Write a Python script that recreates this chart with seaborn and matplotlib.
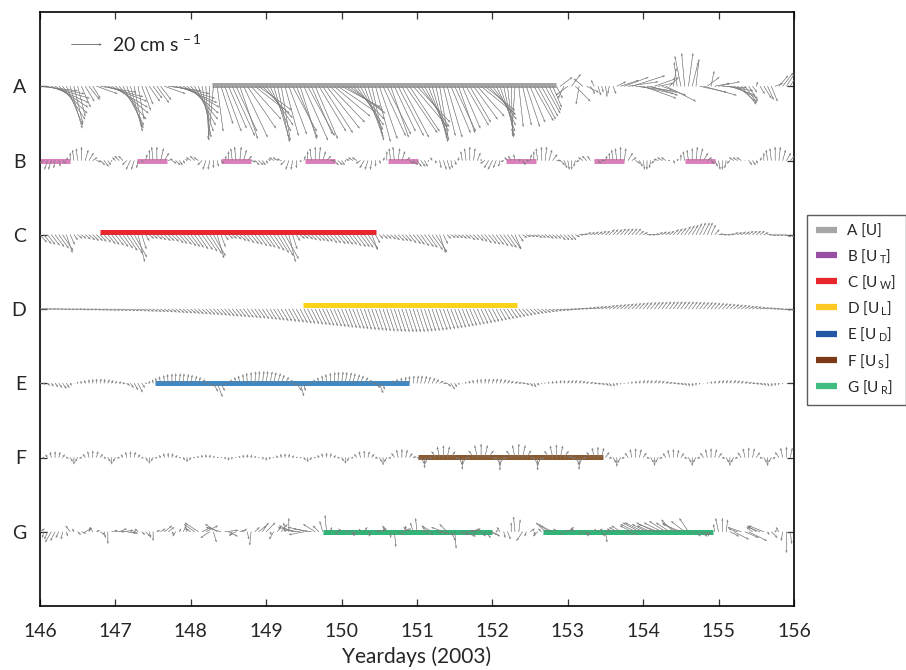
import numpy as np
import pandas as pd
import matplotlib
matplotlib.use("Agg")
import matplotlib.pyplot as plt
from matplotlib.lines import Line2D
import seaborn as sns

# ---------------- data ----------------
row_names = ["A", "B", "C", "D", "E", "F", "G"]
row_levels = [7, 6, 5, 4, 3, 2, 1]
legend_labels = ["A [U]", r"B [U$_{\;\mathrm{T}}$]", r"C [U$_{\;\mathrm{W}}$]", r"D [U$_{\;\mathrm{L}}$]",
                 r"E [U$_{\;\mathrm{D}}$]", r"F [U$_{\;\mathrm{S}}$]", r"G [U$_{\;\mathrm{R}}$]"]
x_ticks = [146, 147, 148, 149, 150, 151, 152, 153, 154, 155, 156]
t_first = 146.0
t_step = 0.05   # every series sampled every 0.05 day (146.00 ... 156.00)

# velocity components (cm/s)
A_u = [25, 27, 28, 25, 22, 19, 15, 11, 8, 6, 5, 6, 6, 7, 5, 14, 24, 26, 26, 24,
       22, 18, 14, 11, 8, 5, 4, 6, 5, 7, 6, 8, 7, 14, 22, 25, 26, 25, 24, 21,
       18, 14, 10, 6, 2, -1, -3, 4, 8, 11, 12, 15, 14, 12, 16, 19, 20, 23, 22, 20,
       18, 14, 10, 8, 6, 9, 12, 16, 14, 11, 16, 18, 14, 15, 18, 20, 22, 23, 24, 25,
       26, 25, 24, 21, 18, 15, 12, 10, 8, 10, 12, 15, 16, 12, 14, 17, 18, 21, 20, 23,
       22, 19, 16, 13, 10, 8, 6, 8, 10, 13, 14, 11, 12, 15, 14, 16, 18, 21, 20, 18,
       16, 13, 10, 7, 4, 1, -2, 3, 6, 9, 10, 13, 12, 11, 10, 8, 6, 4, 8, -4,
       -8, 6, 10, -2, -6, 8, 3, -2, 2, 1, 1, -1, 2, 6, 12, 16, 20, 22, 24, 23,
       22, 20, 18, 14, 10, 16, 20, 6, 2, -2, -4, -2, 3, 4, 2, 18, 22, 8, 2, 10,
       14, 16, 18, 17, 16, 12, 10, 8, 6, 3, 1, 3, 5, 4, 4, 5, 6, 7, 7, 6,
       5]
A_v = [-3, -5, -8, -11, -14, -18, -22, -26, -28, -25, -20, -14, -10, -9, -8, -5, -4, -7, -10, -14,
       -18, -22, -26, -28, -30, -27, -22, -16, -12, -10, -8, -11, -9, -5, -3, -5, -8, -11, -14, -18,
       -22, -26, -30, -34, -36, -35, -33, -30, -25, -30, -28, -33, -30, -35, -34, -28, -22, -18, -16, -21,
       -26, -30, -34, -37, -36, -33, -32, -30, -34, -35, -36, -33, -32, -35, -30, -31, -28, -24, -20, -17,
       -14, -16, -18, -22, -26, -29, -32, -34, -36, -37, -35, -33, -32, -34, -30, -33, -34, -31, -30, -27,
       -24, -27, -30, -33, -35, -37, -36, -33, -34, -31, -30, -31, -28, -26, -24, -22, -20, -17, -16, -19,
       -22, -26, -30, -33, -34, -33, -30, -27, -26, -27, -24, -23, -22, -20, -18, -16, -14, -8, 6, -8,
       -6, 8, -10, -12, 5, -4, -5, 4, -6, -4, -7, -5, -5, 3, 4, 6, 3, 7, -3, -5,
       -8, -4, -6, 5, 2, -6, -10, 6, 12, 16, 20, 22, 22, 16, 18, -4, -6, 6, 10, 2,
       3, -1, -3, -6, -8, -10, -12, -11, -10, -4, 3, -5, -8, -9, -10, 2, 7, 9, 11, 10,
       8]

B_u = [-3, -3, -2, -2, -1, 1, 2, 1, 0, -1, -1, 0, 2, 3, 3, 3, 3, 3, 2, 0,
       -2, -3, -3, -3, -3, -2, -1, 1, 1, 0, -1, 0, 2, 3, 3, 3, 3, 2, 1, -1,
       -3, -3, -3, -3, -2, -1, 0, 1, 2, 1, 0, -1, -1, 1, 2, 3, 3, 3, 3, 2,
       1, -1, -3, -3, -3, -3, -2, -1, 0, 1, 1, 0, -1, 0, 1, 2, 3, 3, 3, 3,
       2, 0, -2, -3, -3, -3, -3, -2, -1, 0, 1, 1, 0, -1, -1, 1, 2, 3, 3, 3,
       3, 3, 2, 0, -1, 0, 1, 2, 2, 1, 1, 0, -1, -1, 0, 1, 2, 0, -3, -3,
       -3, -2, -1, -2, -2, -2, -1, 1, 2, 2, 1, 0, -1, 0, 1, 2, 3, 3, 3, 2,
       1, 0, -1, -2, -3, -3, -2, 0, 2, 2, 1, 0, -1, -1, 0, 1, 3, 3, 3, 2,
       1, 0, -1, -2, -3, -3, -3, -1, 1, 1, 0, -1, -1, 0, 1, 2, 3, 3, 2, 2,
       1, 0, -1, -2, -3, -3, -3, 0, 2, 2, 1, 1, 0, -1, -1, 0, 1, 2, 3, 3,
       2]
B_v = [3, -2, -6, -6, -5, -4, -2, 2, 5, 7, 8, 9, 7, 5, 2, -1, -3, -4, -3, -1,
       2, 3, 3, -3, -6, -6, -5, -1, 4, 7, 9, 9, 8, 5, 1, -2, -3, -3, -2, 1,
       2, 3, 2, -3, -6, -6, -5, -4, -2, 3, 6, 8, 9, 9, 7, 3, -1, -3, -3, -3,
       -2, 1, 2, 2, 1, -3, -6, -6, -5, -1, 3, 6, 8, 9, 9, 6, 3, 0, -3, -3,
       -3, -1, 1, 2, 2, -2, -5, -6, -6, -4, -2, 2, 6, 8, 9, 8, 6, 2, -2, -3,
       -4, -4, -4, -1, 2, -2, -5, -6, -6, -5, -3, 2, 6, 8, 9, 8, 5, 1, -2, -5,
       -6, -5, -4, -1, 2, 3, 4, 1, -3, 0, 4, 6, 8, 9, 9, 7, 4, 0, -3, -5,
       -6, -6, -4, -1, 2, 3, 3, 0, -2, 0, 3, 5, 7, 8, 9, 8, 5, 2, -2, -4,
       -6, -6, -5, -2, 1, 2, 2, 0, -2, 1, 4, 6, 7, 8, 9, 8, 5, 2, -2, -4,
       -6, -6, -5, -2, 2, 2, 2, 0, -3, -3, -2, 2, 5, 7, 8, 9, 9, 7, 5, 3,
       1]

C_u = [4.5, 5, 5, 5.5, 6, 6.5, 7, 4, 3, 2.5, 3, 3, 3.5, 4, 4, 4, 4, 4.5, 5, 5,
       5.5, 6, 6.5, 7, 8, 8.5, 4.5, 3, 2.5, 3, 3, 3.5, 3.5, 4, 4, 4.5, 5, 5, 5.5, 6,
       6, 6, 6.5, 7, 7.5, 8, 8, 4.5, 3, 2.5, 3, 3, 3.5, 4, 4, 4.5, 5, 5, 5.5, 6,
       6, 6.5, 7, 7.5, 8, 9, 4.5, 3, 2.5, 3, 3, 3.5, 3.5, 4, 4, 4, 4, 4.5, 4.5, 5,
       5, 5, 5, 5.5, 6, 6, 6, 6.5, 4, 3, 2.5, 3, 3, 3.5, 3.5, 4, 4, 4, 4.5, 5,
       5, 5.5, 6, 6, 7, 7.5, 4, 3, 2.5, 3, 3, 3, 3, 3, 3.5, 3.5, 4, 4, 4.5, 5,
       5, 5, 5.5, 6, 6, 6.5, 4, 3, 3, 3, 3, 3, 3, 3, 3, 3, 3, 3, 3.5, 3.5,
       3.5, 3, 3, 3, 3, 3, 3, 3, 3, 3, 3, 3.5, 3.5, 3.5, 3.5, 3.5, 3.5, 3.5, 3.5, 3,
       3, 3, 3, 3, 3, 3, 3, 3, 3.5, 3.5, 3.5, 4, 4, 4, 4, 4, 4, 3.5, 3, 3,
       3, 3, 3, 3, 3, 3, 3, 3, 3, 3, 3, 3, 3, 3, 3, 3, 3, 3, 3, 3,
       3]
C_v = [-5, -6, -6.5, -7, -8, -9, -10.5, -12, -6.5, -3.5, -2.5, -2.5, -3, -3.5, -4, -4, -4.5, -5, -6, -6.5,
       -7, -8, -9, -10.5, -12.5, -15, -18, -9.5, -4, -2.5, -2.5, -3, -3.5, -4, -4, -4.5, -5.5, -6, -6.5, -7.5,
       -8, -8.5, -9.5, -10, -11, -12.5, -14, -15.5, -8, -3.5, -2.5, -2.5, -3, -4, -4.5, -5.5, -6, -6.5, -7.5, -8,
       -8.5, -9.5, -10.5, -12, -14, -16, -18, -9.5, -4, -2.5, -2.5, -3, -3.5, -4, -4, -4.5, -4.5, -5.5, -5.5, -6,
       -6, -6.5, -6.5, -7.5, -8, -8, -8.5, -9.5, -10, -5.5, -2.5, -2.5, -2.5, -3, -3.5, -4, -4, -4.5, -5.5, -6,
       -6.5, -7.5, -8, -8.5, -10, -11.5, -12, -6, -2.5, -2, -2, -2, -2.5, -2.5, -3.5, -3.5, -4, -4.5, -5.5, -6,
       -6.5, -6.5, -7.5, -8, -8.5, -9.5, -9.5, -4.5, -2, -1.5, -1.5, -1.5, -2, -2, -2, -2.5, -2.5, -2.5, -3.5, -3.5,
       -3.5, -3.5, -1.5, 0, 0.5, 1.5, 1.5, 2, 2, 2.5, 2.5, 3.5, 3.5, 3.5, 4, 4, 4, 4, 4, 2.5,
       1.5, 0, 0, 0.5, 1.5, 2, 2, 2.5, 3.5, 4, 4.5, 5.5, 6, 6.5, 7.5, 8, 8, 8, 6.5, 3.5,
       0.5, 0, 0, 0.5, 1.5, 1.5, 2, 2, 2.5, 2.5, 2.5, 2.5, 1.5, 0, -0.5, -0.5, -0.5, -0.5, -1.5, -1.5,
       -1.5]

D_u = [3, 3, 3, 3, 3, 3, 3, 3, 3, 3, 3, 3, 3, 3, 3, 3, 3, 3, 3, 3,
       3, 3, 3, 3, 3, 3, 3, 3, 3, 3, 3, 3, 3, 3, 3, 3.1, 3.1, 3.2, 3.2, 3.3,
       3.4, 3.4, 3.5, 3.5, 3.6, 3.6, 3.7, 3.7, 3.8, 3.8, 3.9, 3.9, 4, 4, 4.1, 4.1, 4.2, 4.2, 4.3, 4.3,
       4.4, 4.4, 4.5, 4.5, 4.6, 4.6, 4.7, 4.7, 4.8, 4.8, 4.9, 4.9, 5, 5, 5, 5, 5, 5, 5, 5,
       5, 5, 5, 5, 5, 5, 5, 5, 5, 5, 5, 5, 5, 5, 5, 5, 5, 5, 5, 5,
       5, 5, 5, 5, 5, 5, 5, 5, 5, 5, 4.9, 4.9, 4.8, 4.8, 4.7, 4.7, 4.6, 4.6, 4.5, 4.5,
       4.4, 4.4, 4.3, 4.3, 4.2, 4.2, 4.1, 4.1, 4, 4, 3.9, 3.9, 3.8, 3.8, 3.7, 3.7, 3.6, 3.6, 3.5, 3.5,
       3.5, 3.5, 3.5, 3.5, 3.5, 3.5, 3.5, 3.5, 3.5, 3.5, 3.5, 3.5, 3.5, 3.5, 3.5, 3.5, 3.5, 3.5, 3.5, 3.5,
       3.5, 3.5, 3.5, 3.5, 3.5, 3.5, 3.5, 3.5, 3.5, 3.5, 3.5, 3.5, 3.5, 3.5, 3.5, 3.5, 3.5, 3.5, 3.5, 3.5,
       3.5, 3.5, 3.5, 3.5, 3.5, 3.5, 3.5, 3.5, 3.5, 3.5, 3.4, 3.4, 3.3, 3.3, 3.2, 3.2, 3.1, 3.1, 3, 3,
       3]
D_v = [0, 0, 0, 0, 0, -0.1, -0.2, -0.2, -0.3, -0.3, -0.3, -0.4, -0.5, -0.5, -0.5, -0.6, -0.7, -0.7, -0.8, -0.9,
       -0.9, -1.0, -1.1, -1.1, -1.2, -1.3, -1.3, -1.4, -1.5, -1.6, -1.7, -1.8, -1.9, -2.0, -2.1, -2.2, -2.4, -2.5, -2.7, -2.8,
       -2.9, -3.1, -3.3, -3.4, -3.6, -3.8, -3.9, -4.1, -4.3, -4.5, -4.7, -4.9, -5.1, -5.3, -5.5, -5.7, -5.9, -6.1, -6.3, -6.6,
       -6.8, -7.1, -7.3, -7.6, -7.9, -8.1, -8.4, -8.7, -8.9, -9.2, -9.5, -9.7, -10.0, -10.3, -10.5, -10.8, -11.1, -11.3, -11.6, -11.9,
       -12.1, -12.4, -12.7, -12.9, -13.2, -13.4, -13.7, -13.9, -14.1, -14.3, -14.5, -14.7, -14.9, -15.0, -15.1, -15.2, -15.3, -15.3, -15.3, -15.3,
       -15.2, -15.1, -14.9, -14.7, -14.5, -14.3, -14.0, -13.7, -13.3, -13.0, -12.7, -12.3, -11.9, -11.5, -11.1, -10.7, -10.2, -9.8, -9.3, -8.9,
       -8.4, -8.0, -7.5, -7.0, -6.5, -6.1, -5.6, -5.2, -4.7, -4.3, -3.8, -3.4, -3.0, -2.7, -2.3, -1.9, -1.6, -1.3, -1.0, -0.8,
       -0.5, -0.2, 0, 0.3, 0.5, 0.8, 1.1, 1.4, 1.6, 1.9, 2.1, 2.4, 2.7, 2.9, 3.1, 3.3, 3.5, 3.7, 3.9, 4.1,
       4.3, 4.4, 4.5, 4.6, 4.7, 4.8, 4.9, 4.9, 4.9, 4.9, 4.9, 4.9, 4.9, 4.8, 4.7, 4.6, 4.5, 4.4, 4.3, 4.1,
       3.9, 3.7, 3.5, 3.3, 3.1, 2.8, 2.5, 2.3, 2.0, 1.8, 1.5, 1.2, 0.9, 0.7, 0.4, 0.2, -0.1, -0.4, -0.7, -0.9,
       -1.1]

E_u = [1, 1, 1.5, 1.5, 2, 2, 2.5, 2, 1, 0, -0.5, -0.5, -0.5, 0, 0, 0, 0.5, 0.5, 1, 1,
       1, 1.5, 1.5, 2, 2, 2.5, 3, 2, 1, 0, -0.5, -1, -1, -0.5, -0.5, 0, 0, 0.5, 0.5, 1,
       1, 1.5, 1.5, 2, 2, 2.5, 3, 3.5, 2.5, 1, 0, -1, -1, -1, -0.5, -0.5, 0, 0.5, 0.5, 1,
       1, 1.5, 1.5, 2, 2, 2.5, 2.5, 3, 3.5, 2.5, 1, 0, -1, -1, -1, -0.5, -0.5, 0, 0.5, 0.5,
       1, 1, 1.5, 1.5, 2, 2, 2.5, 2.5, 3, 3, 2.5, 1, 0, -0.5, -1, -1, -0.5, 0, 0, 0.5,
       1, 1, 1.5, 1.5, 2, 2, 2.5, 2.5, 2.5, 2.5, 1.5, 0.5, 0, -0.5, -0.5, -0.5, 0, 0, 0.5, 0.5,
       1, 1, 1, 1.5, 1.5, 1.5, 2, 2, 2, 2, 2, 1.5, 1, 0, -0.5, -0.5, 0, 0, 0.5, 0.5,
       1, 1, 1, 1.5, 1.5, 1.5, 2, 2, 2, 2, 2, 1.5, 1, 0.5, 0, -0.5, 0, 0, 0.5, 0.5,
       1, 1, 1, 1.5, 1.5, 1.5, 2, 2, 2, 2, 2, 1.5, 1, 0.5, 0, -0.5, 0, 0, 0.5, 0.5,
       1, 1, 1, 1, 1.5, 1.5, 1.5, 2, 2, 2, 2, 2, 1.5, 1, 0.5, 0, -0.5, 0, 0, 0.5,
       0.5]
E_v = [-0.5, -1, -1.5, -2, -2.5, -3, -3.5, -3, -1.5, 0, 1, 1.5, 2, 2.5, 2.7, 3, 3, 2.8, 2.5, 2,
       1.5, 1, 0, -1.5, -3, -4.5, -6, -3, 0, 1.5, 2.5, 3.5, 4.5, 5.3, 6, 6.3, 6.5, 6.5, 6.3, 6,
       5.5, 4.8, 4, 2.5, 0.5, -2, -5.5, -9, -5, -1, 1, 2.5, 4, 5, 6, 6.8, 7.3, 7.7, 8, 8,
       8, 7.7, 7.2, 6.5, 5.5, 4, 2, -1, -5, -8.5, -5, -1, 1, 2.5, 3.8, 5, 6, 6.8, 7.3, 7.5,
       7.5, 7.4, 7, 6.5, 5.8, 5, 3.8, 2, 0, -3, -6.5, -4, -1, 0.5, 1.8, 2.8, 3.6, 4.2, 4.7, 5,
       5, 5, 4.8, 4.3, 3.5, 2.5, 1.5, 0, -2, -4, -2.5, -1, 0, 1, 1.7, 2.2, 2.6, 2.8, 3, 3,
       3, 3, 2.8, 2.5, 2, 1.5, 1, 0.5, 0, -1, -2, -2.5, -1.5, -0.5, 0.3, 1, 1.5, 1.8, 2, 2,
       2, 2, 2, 1.8, 1.5, 1, 0.5, 0, -0.5, -1, -1.5, -2, -2, -1.5, -0.8, 0, 0.7, 1.2, 1.6, 1.8,
       2, 2, 2, 2, 1.8, 1.5, 1, 0.5, 0, -0.5, -1, -1.5, -2, -2, -1.5, -0.8, 0, 0.7, 1.2, 1.6,
       1.8, 2, 2, 2, 2, 1.8, 1.5, 1, 0.5, 0, -0.5, -1, -1.5, -2, -2, -1.7, -1.2, -0.6, 0, 0.4,
       0.8]

F_u = [-1.4, -1.2, -1.4, -0.8, 0, 0.8, 1.4, 1.4, 1.6, 0, -1.6, -1.4, -1.6, -0.9, 0, 0.9, 1.6, 1.4, 1.6, 0,
       -1.6, -1.4, -1.4, -0.8, 0, 0.8, 1.4, 1.2, 1.4, 0, -1.4, -1.2, -1, -0.6, 0, 0.6, 1, 0.9, 1, 0,
       -1, -0.9, -0.7, -0.4, 0, 0.4, 0.7, 0.8, 0.6, 0.7, 0, -0.7, -0.6, -0.7, -0.4, 0, 0.4, 0.7, 0.6, 0.7,
       0, -0.7, -0.6, -0.9, -0.5, 0, 0.5, 0.9, 0.9, 0.9, 1, 0, -1, -0.9, -1, -0.6, 0, 0.6, 1, 1.2,
       1.4, 0, -1.4, -1.2, -1.6, -0.9, 0, 0.9, 1.6, 1.5, 1.8, 0, -1.8, -1.5, -1.9, -1.1, 0, 1.1, 1.9, 2,
       2.1, 2.5, 0, -2.5, -2.1, -2.8, -1.6, 0, 1.6, 2.8, 2.4, 2.8, 0, -2.8, -2.4, -3.2, -1.8, 0, 1.8, 3.2,
       2.6, 3, 0, -3, -2.6, -3.2, -1.8, 0, 1.8, 3.2, 2.6, 3, 0, -3, -2.6, -3, -1.7, 0, 1.7, 3,
       2.8, 2.4, 2.8, 0, -2.8, -2.4, -2.5, -1.4, 0, 1.4, 2.5, 1.8, 2.1, 0, -2.1, -1.8, -2.1, -1.2, 0, 1.2,
       2.1, 1.7, 1.9, 0, -1.9, -1.7, -1.9, -1.1, 0, 1.1, 1.9, 1.7, 1.9, 0, -1.9, -1.7, -2.1, -1.2, 0, 1.2,
       2.1, 1.7, 1.9, 0, -1.9, -1.7, -2.3, -1.3, 0, 1.3, 2.3, 1.7, 1.9, 0, -1.9, -1.7, -2.5, -1.4, 0, 1.4,
       2.5]
F_v = [-2.4, -0.4, 2, 3.6, 4, 3.6, 2, -0.5, -2.7, -4.5, -2.7, -0.5, 2.3, 4, 4.5, 4, 2.3, -0.5, -2.7, -4.5,
       -2.7, -0.5, 2, 3.6, 4, 3.6, 2, -0.4, -2.4, -4, -2.4, -0.4, 1.5, 2.7, 3, 2.7, 1.5, -0.3, -1.8, -3,
       -1.8, -0.3, 1, 1.8, 2, 1.8, 1, 0.2, -0.2, -1.2, -2, -1.2, -0.2, 1, 1.8, 2, 1.8, 1, -0.2, -1.2,
       -2, -1.2, -0.2, 1.3, 2.3, 2.5, 2.3, 1.3, 0.3, -0.3, -1.8, -3, -1.8, -0.3, 1.5, 2.7, 3, 2.7, 1.5, -0.4,
       -2.4, -4, -2.4, -0.4, 2.3, 4, 4.5, 4, 2.3, -0.5, -3, -5, -3, -0.5, 2.8, 5, 5.5, 5, 2.8, 0.5,
       -0.7, -4.2, -7, -4.2, -0.7, 4, 7.2, 8, 7.2, 4, -0.8, -4.8, -8, -4.8, -0.8, 4.5, 8.1, 9, 8.1, 4.5,
       -0.9, -5.1, -8.5, -5.1, -0.9, 4.5, 8.1, 9, 8.1, 4.5, -0.9, -5.1, -8.5, -5.1, -0.9, 4.3, 7.7, 8.5, 7.7, 4.3,
       0.8, -0.8, -4.8, -8, -4.8, -0.8, 3.5, 6.3, 7, 6.3, 3.5, -0.6, -3.6, -6, -3.6, -0.6, 3, 5.4, 6, 5.4,
       3, -0.6, -3.3, -5.5, -3.3, -0.6, 2.8, 5, 5.5, 5, 2.8, -0.6, -3.3, -5.5, -3.3, -0.6, 3, 5.4, 6, 5.4,
       3, -0.6, -3.3, -5.5, -3.3, -0.6, 3.3, 5.9, 6.5, 5.9, 3.3, -0.6, -3.3, -5.5, -3.3, -0.6, 3.5, 6.3, 7, 6.3,
       3.5]

G_u = [3, -1, -2, -4, -3, -2, -1, 1, -3, -1, 2, 3, 4, 1, -2, 2, 3, 1, 0, 4,
       6, 5, 7, 6, 5, 1, -2, 2, 3, 1, 0, 2, 3, 5, 4, 1, -2, 1, 2, -1,
       -3, -7, -9, 6, 8, -6, 2, -8, -10, 9, 6, -2, -4, 3, 2, 1, -1, 3, 5, 4,
       6, 1, -3, 2, 4, -1, 0, -9, -12, -11, -10, -13, -12, -8, -4, -2, -1, 1, 3, 1,
       -2, 2, 4, 1, -3, -1, 2, 1, -2, 3, 5, 1, -3, 0, 1, 4, 6, 0, -4, -2,
       -1, 3, 6, -4, -7, 8, 10, -8, -5, 3, 1, 7, 9, 10, 7, -2, -3, 3, 4, 6,
       5, 1, -2, 1, 2, 0, -1, 1, -4, -1, 3, 1, -3, -2, -6, -7, -8, -2, 2, 3,
       4, 1, -3, 2, 5, 1, -2, 1, 3, 2, 1, -2, -4, -5, -6, 2, 6, -8, -10, -11,
       -12, -10, -9, -12, -13, -12, -11, -9, -8, -10, -12, -9, -6, 1, 3, 5, 4, 1, -2, -1,
       -2, 0, 1, 6, 10, -6, -9, 9, 12, -4, -6, -8, -10, 1, 4, 1, -2, -1, 0, 1,
       2]
G_v = [2, -4, -5, -7, -6, -4, -5, -3, 4, 2, -2, -1, 2, 3, 3, 1, -2, -4, -8, 1,
       0, 2, 1, -1, -1, 1, 2, -2, -3, -4, -6, 1, 2, 4, 3, -2, -3, 2, 4, 3,
       2, 5, 6, 3, 4, -4, -7, 5, 3, 1, -3, -3, -2, 1, 2, -5, -9, 3, 4, 6,
       6, -2, -5, 3, 5, 6, 9, 4, 3, 1, -2, 3, 2, 5, 4, 7, 11, 3, -2, 1,
       2, 1, -1, -3, -2, 2, 3, -1, -3, 1, 2, 3, 4, -4, -10, -2, 2, 4, 3, 6,
       9, 1, -2, 3, 4, -1, -2, 3, 5, -6, -11, -2, -3, 1, 2, 1, -2, -3, -4, -2,
       -3, 1, 3, -4, -5, 6, 10, 8, -6, -3, 2, -2, -3, 2, 6, 5, 4, 2, -2, 1,
       3, 2, 2, -1, -2, -2, -3, 2, 2, -3, -7, 1, 2, 3, 4, -1, -2, 4, 5, 6,
       6, 5, 4, 6, 5, 6, 7, 6, 8, 6, 5, 7, 9, -1, -3, -3, -2, -3, -2, 5,
       9, 9, 8, -3, -5, 2, 3, -4, -6, 3, 4, 3, 4, -2, -4, 1, 3, -6, -14, -8,
       3]

# highlighted periods (yeardays)
bar_row = ["A", "B", "B", "B", "B", "B", "B", "B", "B", "C", "D", "E", "F", "G", "G"]
bar_start = [148.28, 146.00, 147.29, 148.40, 149.51, 150.62, 152.18, 153.35, 154.55,
             146.80, 149.49, 147.52, 151.01, 149.75, 152.67]
bar_end = [152.84, 146.40, 147.68, 148.80, 149.91, 151.01, 152.58, 153.75, 154.95,
           150.46, 152.32, 150.90, 153.47, 152.00, 154.92]

# ---------------- style ----------------
sns.set_style("ticks")
plt.rcParams["font.family"] = ["Lato", "DejaVu Sans"]
plt.rcParams["mathtext.fontset"] = "custom"
plt.rcParams["mathtext.rm"] = "Lato"
plt.rcParams["mathtext.it"] = "Lato:italic"
plt.rcParams["mathtext.bf"] = "Lato:bold"

bar_colors = {"A": "#a3a3a3", "B": "#dc80bb", "C": "#e8262b", "D": "#fdd21c",
              "E": "#3d88c6", "F": "#8b5a2e", "G": "#2fb677"}
legend_colors = ["#a6a6a6", "#984ea3", "#e8262b", "#fcc821", "#2457a6", "#7d3a1b", "#40bc80"]
bar_offset = {"A": 0.015, "B": 0.0, "C": 0.04, "D": 0.05, "E": 0.01, "F": 0.01, "G": 0.0}
stick_color = "#7c7c7c"

W, H = 906, 670
fig = plt.figure(figsize=(W / 100, H / 100), dpi=100)
ax = fig.add_axes([40 / W, 1 - 606 / H, (794 - 40) / W, (606 - 12) / H])

level_of = dict(zip(row_names, row_levels))

# colored bars via seaborn
recs = []
for i, (r, s, e) in enumerate(zip(bar_row, bar_start, bar_end)):
    y = level_of[r] + bar_offset[r]
    recs.append({"x": s, "y": y, "seg": f"s{i}", "row": r})
    recs.append({"x": e, "y": y, "seg": f"s{i}", "row": r})
bars_df = pd.DataFrame(recs)
sns.lineplot(data=bars_df, x="x", y="y", hue="row", palette=bar_colors, units="seg",
             estimator=None, sort=False, linewidth=3.6, legend=False, ax=ax, zorder=2,
             solid_capstyle="butt")

# sticks
rows = {"A": (A_u, A_v), "B": (B_u, B_v), "C": (C_u, C_v), "D": (D_u, D_v),
        "E": (E_u, E_v), "F": (F_u, F_v), "G": (G_u, G_v)}
qscale = 20 / 0.30  # 20 cm/s drawn as 0.30 inch
q = None
for name, (uu, vv) in rows.items():
    uu = np.asarray(uu, float)
    vv = np.asarray(vv, float)
    n = min(len(uu), len(vv))
    uu, vv = uu[:n], vv[:n]
    t = t_first + t_step * np.arange(n)
    y = np.full(n, float(level_of[name]))
    q = ax.quiver(t, y, uu, vv, angles="uv", scale_units="inches", scale=qscale,
                  units="inches", width=0.003, headwidth=5.5, headlength=7.5,
                  headaxislength=6.5, pivot="tail", color=stick_color,
                  linewidth=0.2, edgecolor=stick_color, zorder=3)

ax.quiverkey(q, X=(101 - 40) / 754, Y=(606 - 44) / 594, U=20,
             label=r"20 cm s$^{\,-1}$", labelpos="E", coordinates="axes",
             labelsep=0.11, fontproperties={"size": 14}, color="#444444")

ax.set_xlim(146, 156)
ax.set_ylim(0, 8)
ax.set_xticks(x_ticks)
ax.set_xticklabels([str(v) for v in x_ticks])
ax.set_yticks(row_levels)
ax.set_yticklabels(row_names)
ax.tick_params(axis="both", direction="in", top=True, right=True, length=5,
               width=0.9, labelsize=14, color="#333333")
ax.tick_params(axis="x", pad=12)
ax.tick_params(axis="y", pad=10)
for sp in ax.spines.values():
    sp.set_linewidth(1.2)
    sp.set_color("black")
ax.set_xlabel("Yeardays (2003)", fontsize=15, labelpad=5)
ax.set_ylabel("")

handles = [Line2D([0], [0], color=c, lw=4.5, solid_capstyle="butt") for c in legend_colors]
leg = ax.legend(handles, legend_labels, loc="center left", bbox_to_anchor=(1.017, 0.498),
                frameon=True, fancybox=False, fontsize=11, handlelength=1.35,
                handletextpad=0.7, labelspacing=0.55, borderpad=0.6, borderaxespad=0)
leg.get_frame().set_edgecolor("#333333")
leg.get_frame().set_linewidth(1.0)

fig.savefig("out.png", dpi=100)
